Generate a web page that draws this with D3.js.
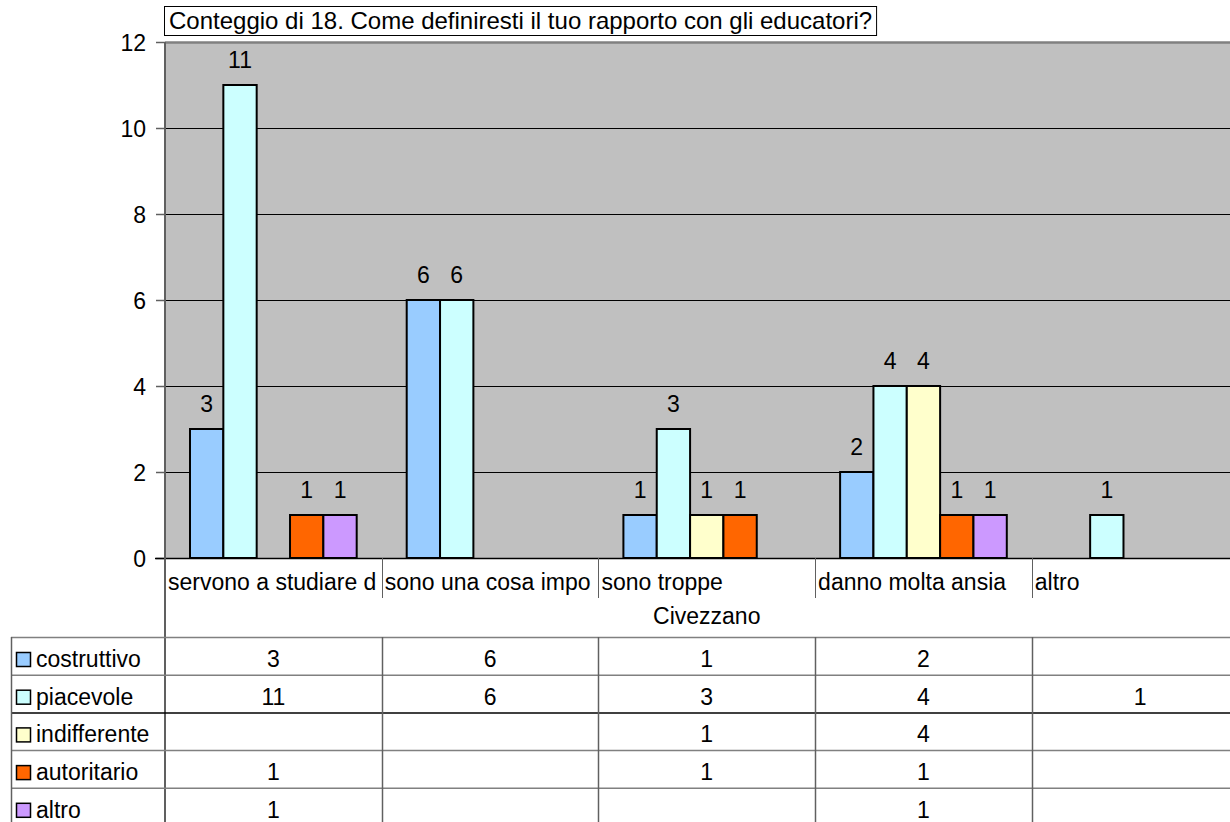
<!DOCTYPE html>
<html>
<head>
<meta charset="utf-8">
<script src="https://cdn.jsdelivr.net/npm/d3@7"></script>
<style>
  body { margin: 0; background: #fff; }
  svg { display: block; font-family: "Liberation Sans", Arial, sans-serif; }
  .lbl { font-size: 23px; fill: #000; }
</style>
</head>
<body>
<svg width="1230" height="822"></svg>
<script>
const width = 1230;
const height = 822;

// dati
const categorie = ["servono a studiare d", "sono una cosa impo", "sono troppe", "danno molta ansia", "altro"];
const serie = ["costruttivo", "piacevole", "indifferente", "autoritario", "altro"];
const costruttivo = [3, 6, 1, 2, null];
const piacevole = [11, 6, 3, 4, 1];
const indifferente = [null, null, 1, 4, null];
const autoritario = [1, null, 1, 1, null];
const altro = [1, null, null, 1, null];
const colori = ["#99CCFF", "#CCFFFF", "#FFFFCC", "#FF6600", "#CC99FF"];
const yTicks = [0, 2, 4, 6, 8, 10, 12];
const titolo = "Conteggio di 18. Come definiresti il tuo rapporto con gli educatori?";
const gruppo = "Civezzano";

const valori = [costruttivo, piacevole, indifferente, autoritario, altro];

const plot = { left: 165, top: 42, bottom: 558, right: 165 + 216.7 * 5 };

const svg = d3.select("svg");

const x0 = d3.scaleBand().domain(categorie).range([plot.left, plot.right]);
const x1 = d3.scaleBand().domain(serie).range([0, x0.bandwidth()]).paddingInner(0).paddingOuter(0.75);
const y = d3.scaleLinear().domain([0, 12]).range([plot.bottom, plot.top]);

// sfondo area grafico
svg.append("rect")
  .attr("x", plot.left).attr("y", plot.top)
  .attr("width", plot.right - plot.left).attr("height", plot.bottom - plot.top)
  .attr("fill", "#C0C0C0");

// griglia
svg.append("g")
  .selectAll("line")
  .data(yTicks.filter(d => d > 0))
  .join("line")
  .attr("x1", plot.left).attr("x2", plot.right)
  .attr("y1", d => Math.round(y(d)) + 0.5).attr("y2", d => Math.round(y(d)) + 0.5)
  .attr("stroke", d => d === 12 ? "#808080" : "#000")
  .attr("stroke-width", d => d === 12 ? 2.5 : 1);

// asse Y
const yAxis = svg.append("g")
  .attr("transform", `translate(${plot.left}, 0)`)
  .call(d3.axisLeft(y).tickValues(yTicks).tickSize(9).tickPadding(10).tickFormat(d3.format("d")));
yAxis.select(".domain").remove();
yAxis.selectAll("line").attr("stroke", "#606060").attr("stroke-width", 1.5);
yAxis.selectAll("text").attr("class", "lbl").attr("font-family", null).attr("font-size", null).attr("dy", "0.36em");

// barre
const gruppi = svg.append("g")
  .selectAll("g")
  .data(categorie)
  .join("g")
  .attr("transform", d => `translate(${x0(d)}, 0)`);

gruppi.selectAll("rect")
  .data((c, i) => serie.map((s, j) => ({ s, j, v: valori[j][i] })).filter(d => d.v != null))
  .join("rect")
  .attr("x", d => x1(d.s))
  .attr("y", d => y(d.v))
  .attr("width", x1.bandwidth())
  .attr("height", d => y(0) - y(d.v))
  .attr("fill", d => colori[d.j])
  .attr("stroke", "#000")
  .attr("stroke-width", 2);

gruppi.selectAll("text")
  .data((c, i) => serie.map((s, j) => ({ s, j, v: valori[j][i] })).filter(d => d.v != null))
  .join("text")
  .attr("class", "lbl")
  .attr("x", d => x1(d.s) + x1.bandwidth() / 2)
  .attr("y", d => y(d.v) - 17)
  .attr("text-anchor", "middle")
  .text(d => d.v);

// linee asse
svg.append("line")
  .attr("x1", plot.left - 10).attr("x2", plot.right)
  .attr("y1", plot.bottom + 0.5).attr("y2", plot.bottom + 0.5)
  .attr("stroke", "#000").attr("stroke-width", 1.5);
svg.append("line")
  .attr("x1", plot.left).attr("x2", plot.left)
  .attr("y1", plot.top).attr("y2", height)
  .attr("stroke", "#606060").attr("stroke-width", 2);

// etichette categorie
svg.append("g")
  .selectAll("line")
  .data(categorie.slice(1))
  .join("line")
  .attr("x1", d => Math.round(x0(d)) + 0.5).attr("x2", d => Math.round(x0(d)) + 0.5)
  .attr("y1", plot.bottom).attr("y2", 598)
  .attr("stroke", "#606060");

svg.append("g")
  .selectAll("text")
  .data(categorie)
  .join("text")
  .attr("class", "lbl")
  .attr("x", d => x0(d) + 3)
  .attr("y", 590)
  .text(d => d);

svg.append("text")
  .attr("class", "lbl")
  .attr("x", (plot.left + plot.right) / 2).attr("y", 624)
  .attr("text-anchor", "middle")
  .text(gruppo);

// titolo
const tBox = svg.append("rect")
  .attr("x", 164.5).attr("y", 6.5)
  .attr("height", 29)
  .attr("fill", "#fff").attr("stroke", "#000");
const t = svg.append("text")
  .attr("class", "lbl")
  .attr("font-size", "24px")
  .style("font-size", "24px")
  .attr("x", 169).attr("y", 29)
  .text(titolo);
tBox.attr("width", t.node().getComputedTextLength() + 9);

// tabella dati
const rowH = 37.7;
const tabTop = 637;
const tab = svg.append("g");
const righe = tab.selectAll("g")
  .data(serie)
  .join("g")
  .attr("transform", (d, j) => `translate(0, ${tabTop + j * rowH})`);

righe.append("line")
  .attr("x1", 11).attr("x2", width)
  .attr("y1", 0.5).attr("y2", 0.5)
  .attr("stroke", (d, j) => j === 2 ? "#000" : "#808080").attr("stroke-width", 1.5);

righe.append("rect")
  .attr("x", 16.5).attr("y", 15.5)
  .attr("width", 14).attr("height", 14)
  .attr("fill", (d, j) => colori[j])
  .attr("stroke", "#000").attr("stroke-width", 1.5);

righe.append("text")
  .attr("class", "lbl")
  .attr("x", 36).attr("y", 30)
  .text(d => d);

righe.selectAll("text.v")
  .data((s, j) => categorie.map((c, i) => ({ c, v: valori[j][i] })).filter(d => d.v != null))
  .join("text")
  .attr("class", "lbl v")
  .attr("x", d => x0(d.c) + x0.bandwidth() / 2)
  .attr("y", 30)
  .attr("text-anchor", "middle")
  .text(d => d.v);

tab.append("line")
  .attr("x1", 11.5).attr("x2", 11.5)
  .attr("y1", tabTop).attr("y2", height)
  .attr("stroke", "#606060").attr("stroke-width", 1.5);
tab.selectAll("line.col")
  .data(categorie.slice(1))
  .join("line")
  .attr("class", "col")
  .attr("x1", d => Math.round(x0(d)) + 0.5).attr("x2", d => Math.round(x0(d)) + 0.5)
  .attr("y1", tabTop).attr("y2", height)
  .attr("stroke", "#606060").attr("stroke-width", 1.5);
</script>
</body>
</html>
